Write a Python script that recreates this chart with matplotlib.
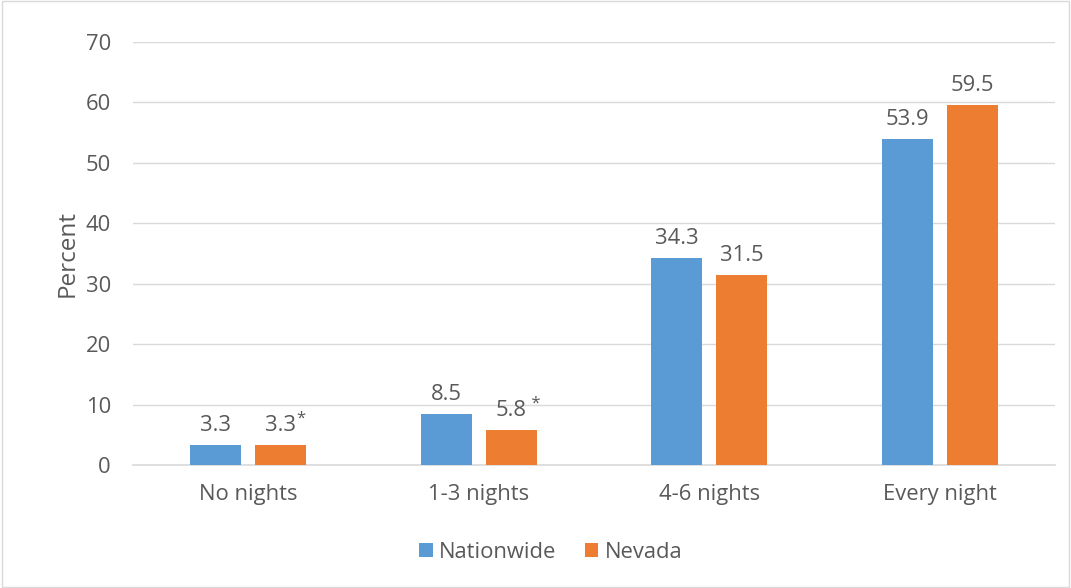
import numpy as np
import matplotlib
matplotlib.use("Agg")
import matplotlib.pyplot as plt
from matplotlib.patches import Rectangle

categories = ['No nights', '1-3 nights', '4-6 nights', 'Every night']
nationwide = [3.3, 8.5, 34.3, 53.9]
nevada = [3.3, 5.8, 31.5, 59.5]
nevada_flag = ['*', ' *', '', '']

plt.rcParams['font.family'] = ['Open Sans', 'DejaVu Sans']
gray_txt = '#595959'
blue = '#5b9bd5'
orange = '#ed7d31'
fs = 15.8

fig = plt.figure(figsize=(10.71, 5.88), dpi=100)
ax = fig.add_axes([133/1071, 1-465/588, (1055-133)/1071, (465-42)/588])
fig.patches.append(Rectangle((0.0015, 0.002), 0.997, 0.996, transform=fig.transFigure,
                             fill=False, edgecolor='#d9d9d9', linewidth=1))

x = np.arange(len(categories))
w = 0.22
off = 0.141
b1 = ax.bar(x - off, nationwide, w, color=blue, label='Nationwide', zorder=3)
b2 = ax.bar(x + off, nevada, w, color=orange, label='Nevada', zorder=3)

for xi, v in zip(x - off, nationwide):
    ax.text(xi, v + 1.5, f'{v:.1f}', ha='center', va='bottom', fontsize=fs, color=gray_txt)
for xi, v, f in zip(x + off, nevada, nevada_flag):
    t = ax.text(xi, v + 1.5, f'{v:.1f}', ha='center', va='bottom', fontsize=fs, color=gray_txt)
    if f:
        ax.annotate(f, xy=(1, 1), xycoords=t, xytext=(0, 3), textcoords='offset points',
                    ha='left', va='top', fontsize=12, color=gray_txt)

ax.set_xlim(-0.5, 3.5)
ax.set_ylim(0, 70)
ax.set_yticks(range(0, 71, 10))
ax.set_xticks(x)
ax.set_xticklabels(categories)
ax.tick_params(axis='both', length=0, labelsize=fs, labelcolor=gray_txt)
ax.tick_params(axis='x', pad=14)
ax.tick_params(axis='y', pad=16)
ax.set_ylabel('Percent', fontsize=17.5, color=gray_txt, labelpad=4)
ax.grid(axis='y', color='#d9d9d9', linewidth=1, zorder=0)
for s in ['top', 'right', 'left']:
    ax.spines[s].set_visible(False)
ax.spines['bottom'].set_color('#d9d9d9')
ax.spines['bottom'].set_linewidth(1.2)

fig.legend(handles=[b1, b2], loc='center', bbox_to_anchor=(551/1071, 1-552/588), ncol=2,
           frameon=False, fontsize=fs, labelcolor=gray_txt, handlelength=0.6,
           handleheight=0.6, handletextpad=0.3, columnspacing=1.3)

fig.savefig('out.png', dpi=100)
